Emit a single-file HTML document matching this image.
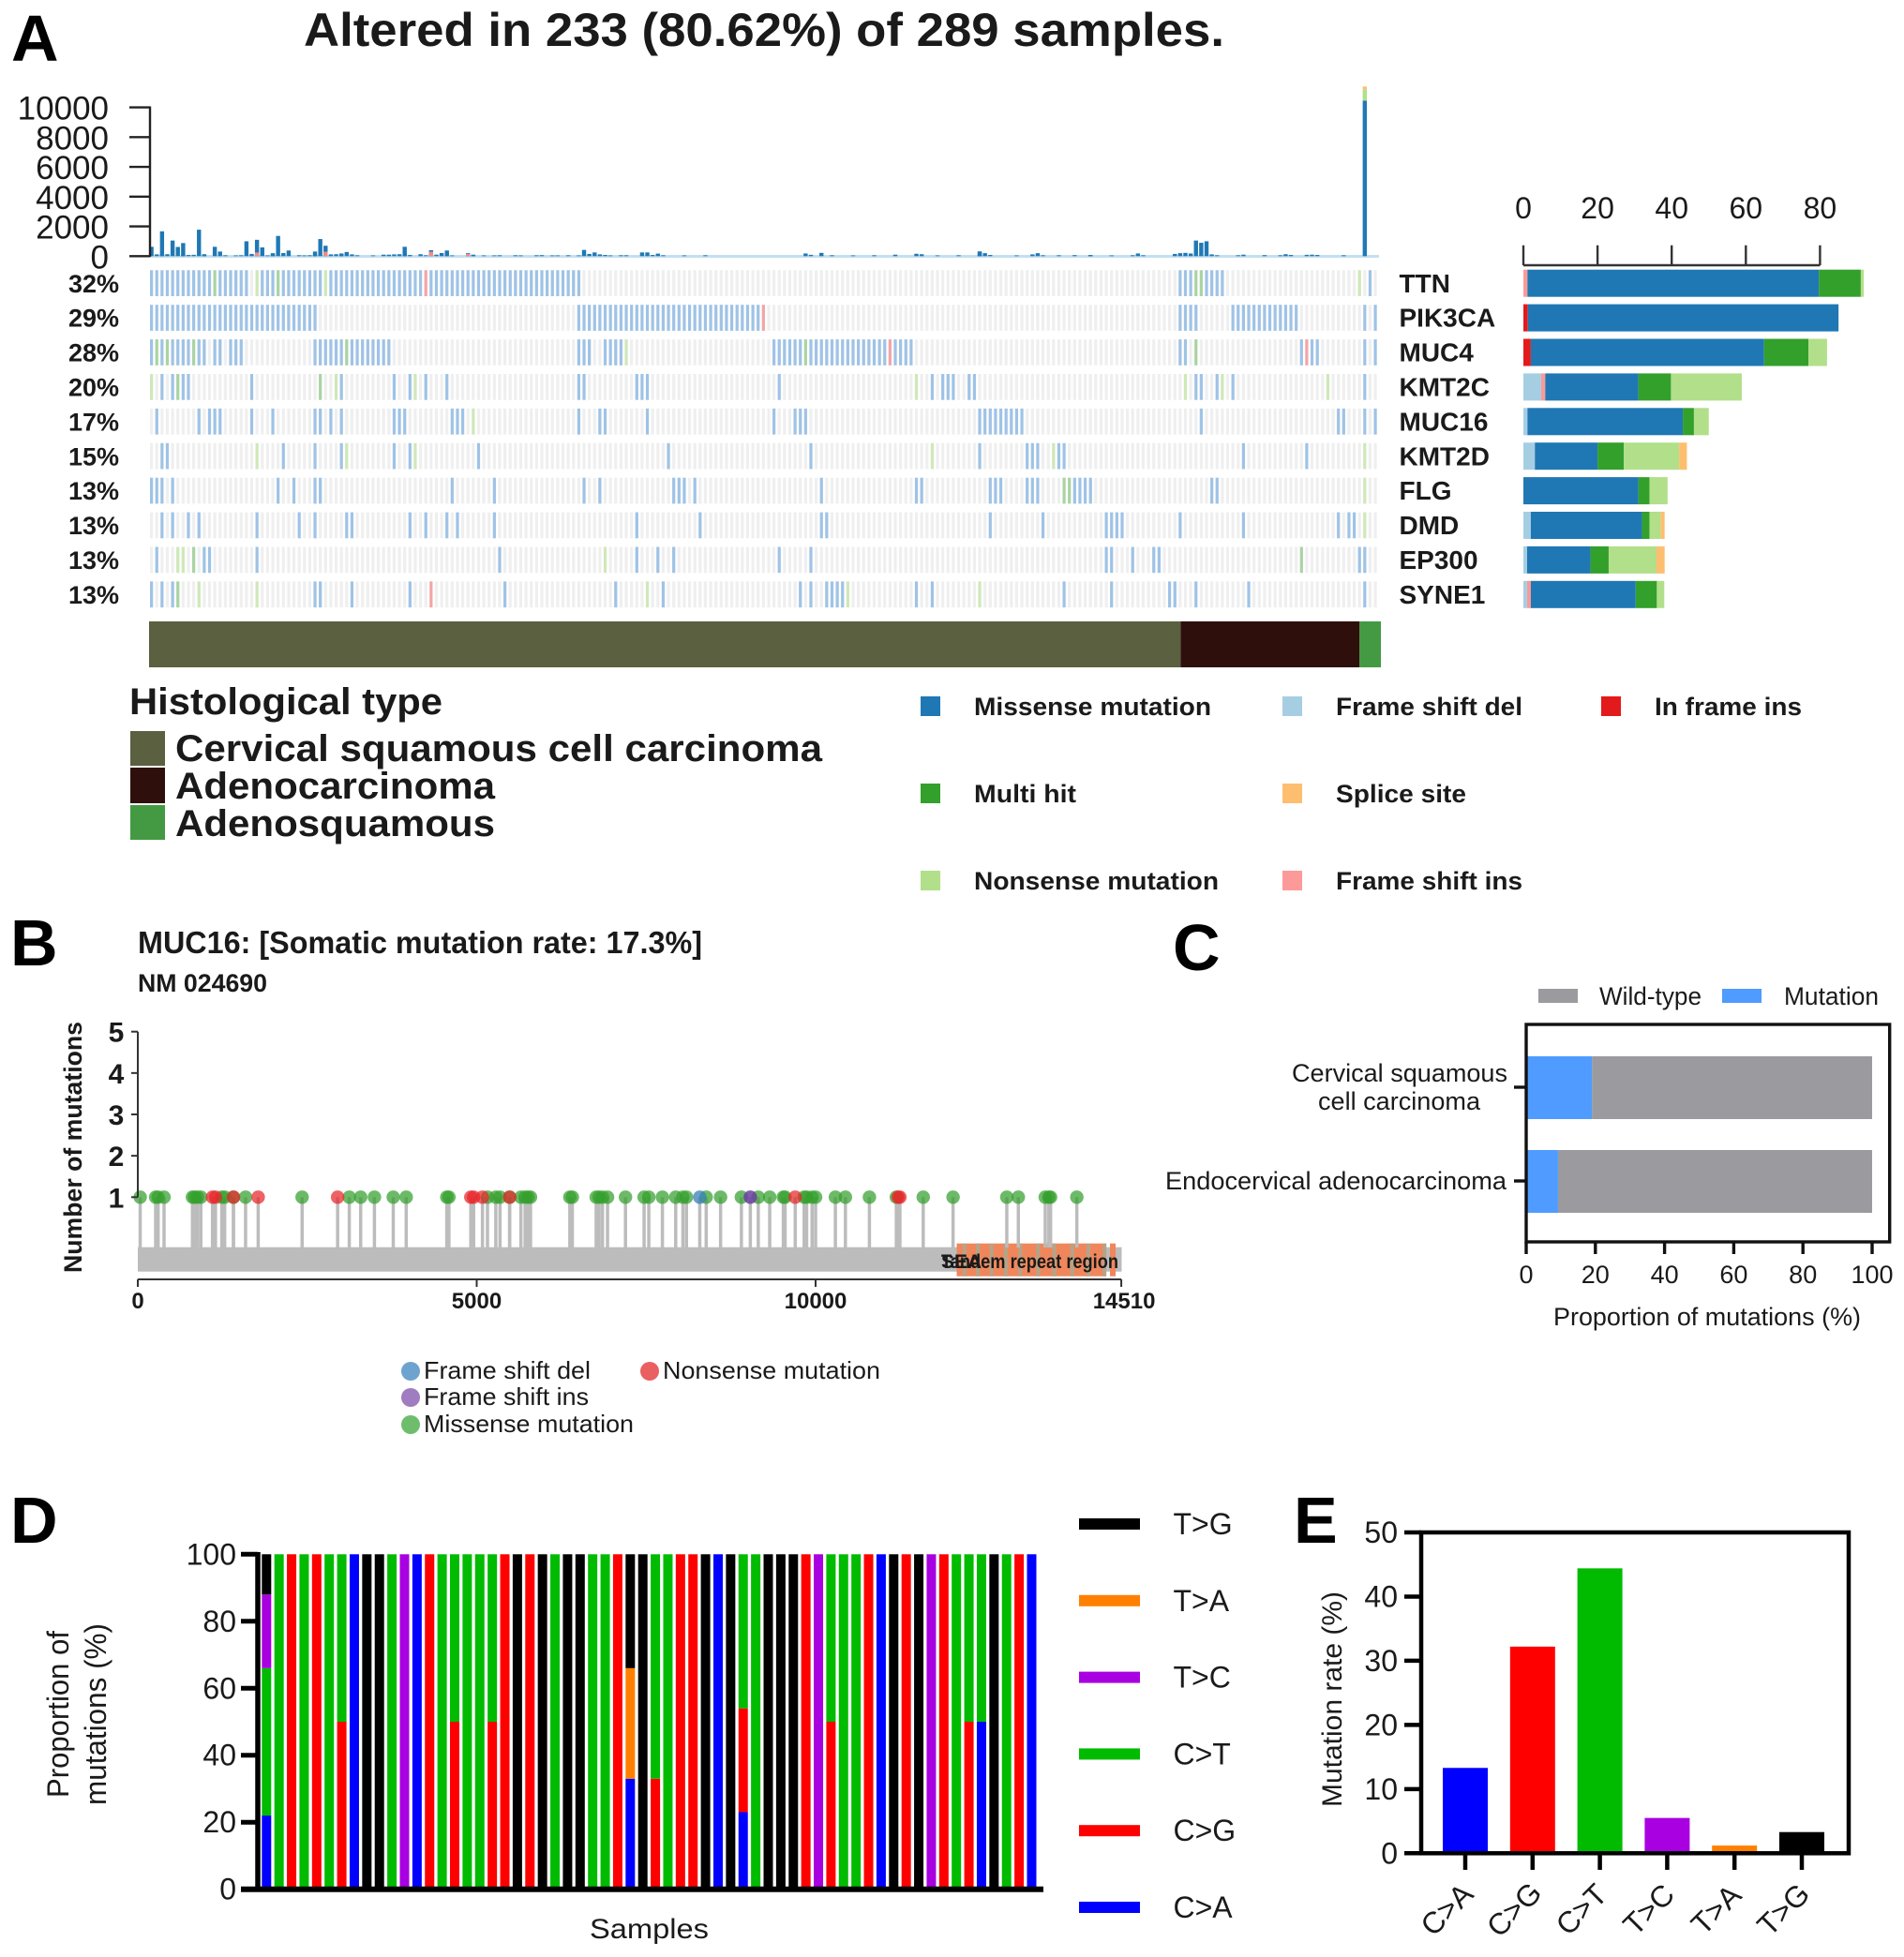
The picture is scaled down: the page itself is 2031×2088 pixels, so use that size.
<!DOCTYPE html>
<html lang="en"><head><meta charset="utf-8"><title>Mutation landscape figure</title>
<style>
html,body{margin:0;padding:0;background:#fff}
svg{display:block}
text{font-family:"Liberation Sans",Arial,sans-serif;fill:#1a1a1a}
.b{font-weight:700}
.panel{font-weight:700;font-size:70px;fill:#000}
</style></head><body>
<svg id="fig" xmlns="http://www.w3.org/2000/svg" width="2031" height="2088" viewBox="0 0 2031 2088">
<rect width="2031" height="2088" fill="#fff"/>
<!-- Panel A static -->
<text class="panel" x="12" y="65">A</text>
<text class="b" x="324" y="49" font-size="50" textLength="982" lengthAdjust="spacingAndGlyphs">Altered in 233 (80.62%) of 289 samples.</text>
<g id="tmb"></g>
<g id="heat"></g>
<g id="geneBars"></g>
<g id="annot"></g>
<g>
<text class="b" x="138" y="762" font-size="40" textLength="334" lengthAdjust="spacingAndGlyphs">Histological type</text>
<rect x="139" y="780" width="37" height="37" fill="#5a6040"/>
<rect x="139" y="819" width="37" height="38" fill="#2e0f0c"/>
<rect x="139" y="859" width="37" height="37" fill="#439a43"/>
<text class="b" x="187" y="812" font-size="40" textLength="690" lengthAdjust="spacingAndGlyphs">Cervical squamous cell carcinoma</text>
<text class="b" x="187" y="852" font-size="40" textLength="341" lengthAdjust="spacingAndGlyphs">Adenocarcinoma</text>
<text class="b" x="187" y="892" font-size="40" textLength="341" lengthAdjust="spacingAndGlyphs">Adenosquamous</text>
</g>
<g>
<rect x="982" y="743" width="21" height="21" fill="#1f78b4"/>
<text class="b" x="1039" y="763" font-size="27" textLength="253" lengthAdjust="spacingAndGlyphs">Missense mutation</text>
<rect x="982" y="836" width="21" height="21" fill="#33a02c"/>
<text class="b" x="1039" y="856" font-size="27" textLength="109" lengthAdjust="spacingAndGlyphs">Multi hit</text>
<rect x="982" y="929" width="21" height="21" fill="#b2df8a"/>
<text class="b" x="1039" y="949" font-size="27" textLength="261" lengthAdjust="spacingAndGlyphs">Nonsense mutation</text>
<rect x="1368" y="743" width="21" height="21" fill="#a6cee3"/>
<text class="b" x="1425" y="763" font-size="27" textLength="199" lengthAdjust="spacingAndGlyphs">Frame shift del</text>
<rect x="1368" y="836" width="21" height="21" fill="#fdbf6f"/>
<text class="b" x="1425" y="856" font-size="27" textLength="139" lengthAdjust="spacingAndGlyphs">Splice site</text>
<rect x="1368" y="929" width="21" height="21" fill="#fb9a99"/>
<text class="b" x="1425" y="949" font-size="27" textLength="199" lengthAdjust="spacingAndGlyphs">Frame shift ins</text>
<rect x="1708" y="743" width="21" height="21" fill="#e31a1c"/>
<text class="b" x="1765" y="763" font-size="27" textLength="157" lengthAdjust="spacingAndGlyphs">In frame ins</text>
</g>
<!-- Panel B static -->
<text class="panel" x="11" y="1030">B</text>
<text class="b" x="147" y="1017" font-size="33" textLength="602" lengthAdjust="spacingAndGlyphs">MUC16: [Somatic mutation rate: 17.3%]</text>
<text class="b" x="147" y="1058" font-size="27" textLength="138" lengthAdjust="spacingAndGlyphs">NM 024690</text>
<text class="b" transform="translate(87 1224) rotate(-90)" text-anchor="middle" font-size="27" textLength="268" lengthAdjust="spacingAndGlyphs">Number of mutations</text>
<g id="lolli"></g>
<g>
<circle cx="438" cy="1463" r="10" fill="#6fa3cf"/>
<text x="452" y="1471" font-size="26" textLength="178" lengthAdjust="spacingAndGlyphs">Frame shift del</text>
<circle cx="438" cy="1491" r="10" fill="#a07cc0"/>
<text x="452" y="1499" font-size="26" textLength="176" lengthAdjust="spacingAndGlyphs">Frame shift ins</text>
<circle cx="438" cy="1520" r="10" fill="#6dbd6d"/>
<text x="452" y="1528" font-size="26" textLength="224" lengthAdjust="spacingAndGlyphs">Missense mutation</text>
<circle cx="693" cy="1463" r="10" fill="#ea5f60"/>
<text x="707" y="1471" font-size="26" textLength="232" lengthAdjust="spacingAndGlyphs">Nonsense mutation</text>
</g>
<!-- Panel C static -->
<text class="panel" x="1251" y="1035">C</text>
<rect x="1641" y="1055" width="42" height="15" fill="#9b9b9f"/>
<text x="1706" y="1072" font-size="27" textLength="109" lengthAdjust="spacingAndGlyphs">Wild-type</text>
<rect x="1837" y="1055" width="42" height="15" fill="#4f9bff"/>
<text x="1903" y="1072" font-size="27" textLength="101" lengthAdjust="spacingAndGlyphs">Mutation</text>
<g id="propC"></g>
<text x="1657" y="1414" font-size="27" textLength="328" lengthAdjust="spacingAndGlyphs">Proportion of mutations (%)</text>
<text x="1378" y="1154" font-size="27" textLength="230" lengthAdjust="spacingAndGlyphs">Cervical squamous</text>
<text x="1406" y="1184" font-size="27" textLength="173" lengthAdjust="spacingAndGlyphs">cell carcinoma</text>
<text x="1243" y="1269" font-size="27" textLength="364" lengthAdjust="spacingAndGlyphs">Endocervical adenocarcinoma</text>
<!-- Panel D static -->
<text class="panel" x="11" y="1646">D</text>
<text transform="translate(73 1829) rotate(-90)" text-anchor="middle" font-size="32" textLength="178" lengthAdjust="spacingAndGlyphs">Proportion of</text>
<text transform="translate(113 1829) rotate(-90)" text-anchor="middle" font-size="32" textLength="194" lengthAdjust="spacingAndGlyphs">mutations (%)</text>
<text x="629" y="2068" font-size="30" textLength="127" lengthAdjust="spacingAndGlyphs">Samples</text>
<g id="stack"></g>
<g id="stackLegend"></g>
<!-- Panel E static -->
<text class="panel" x="1380" y="1646">E</text>
<text transform="translate(1431 1813) rotate(-90)" text-anchor="middle" font-size="30" textLength="230" lengthAdjust="spacingAndGlyphs">Mutation rate (%)</text>
<g id="rate"></g>
</svg>
<script>
/* ---------- Panel A data ---------- */
const pctLabels = ['32%','29%','28%','20%','17%','15%','13%','13%','13%','13%'];
const geneNames = ['TTN','PIK3CA','MUC4','KMT2C','MUC16','KMT2D','FLG','DMD','EP300','SYNE1'];
const tmbTicks = [0,2000,4000,6000,8000,10000];
const tmbSamples = [0,1,2,3,4,5,6,7,8,9,10,11,12,13,15,16,17,20,21,22,23,25,26,27,28,29,30,31,32,35,36,37,38,39,40,41,42,43,44,45,46,47,48,52,55,56,57,58,59,60,61,63,64,66,67,68,69,70,71,74,75,76,78,80,82,85,87,90,92,94,96,98,100,102,103,104,105,106,108,110,112,115,116,118,119,120,125,130,154,155,158,160,165,170,175,180,181,185,190,194,195,196,197,203,207,208,209,213,217,220,221,226,231,232,233,241,242,243,244,246,247,248,249,250,255,257,262,265,267,268,272,273,274,280,285];
const tmbMissense = [630,120,100,1670,130,1050,620,880,100,80,90,1780,130,70,630,310,60,50,60,1000,150,1100,590,50,120,200,1360,210,380,60,50,60,100,310,1150,700,120,130,160,180,280,120,60,50,100,100,120,130,200,630,80,130,60,400,100,210,280,380,50,200,100,60,50,50,60,60,50,60,70,50,50,60,50,420,150,250,120,80,50,60,60,250,250,80,170,60,50,60,180,90,220,60,50,60,100,160,130,50,60,300,320,200,80,50,120,200,60,60,70,80,70,50,60,180,60,150,200,220,180,1050,900,1000,120,60,60,100,70,60,130,80,90,100,80,60,10460];
const tmbPinkSamples = [25,41,66,74];
const tmbPinkValues = [250,300,300,150];
const tmbTopSamples = [285];
const tmbTopNonsense = [756];
const tmbTopSplice = [190];

/* Sample runs [first,last] per gene, read from the oncoplot raster (289-unit scale), and recoloured cells [sample,type] */
const ttnRuns = [[0,22],[25,100],[242,252],[284,284],[286,286]];
const ttnSpecial = [[15,'g'],[25,'n'],[30,'g'],[41,'n'],[65,'r'],[246,'g'],[247,'g'],[284,'n']];
const pik3caRuns = [[0,38],[101,143],[242,245],[254,269],[285,285],[287,287]];
const pik3caSpecial = [[144,'r']];
const muc4Runs = [[0,13],[15,16],[19,21],[39,56],[101,103],[106,110],[112,112],[146,179],[242,243],[246,246],[270,274],[285,285],[288,288]];
const muc4Special = [[1,'g'],[4,'g'],[10,'g'],[46,'g'],[112,'n'],[154,'g'],[174,'r'],[246,'g'],[272,'r']];
const kmt2cRuns = [[0,0],[3,3],[5,9],[23,24],[40,40],[43,44],[57,57],[61,62],[65,65],[69,69],[101,102],[114,116],[148,148],[180,180],[184,184],[186,189],[192,193],[243,243],[246,247],[250,251],[254,254],[277,277],[285,285]];
const kmt2cSpecial = [[0,'n'],[6,'g'],[40,'g'],[43,'n'],[62,'n'],[180,'n'],[243,'n'],[251,'n'],[277,'n']];
const muc16Runs = [[1,1],[11,11],[14,16],[23,24],[28,29],[39,40],[42,42],[45,45],[57,60],[71,73],[75,75],[101,101],[105,106],[117,117],[146,146],[151,154],[194,205],[247,247],[279,280],[285,285],[288,288]];
const muc16Special = [[75,'n']];
const kmt2dRuns = [[3,4],[25,25],[31,31],[39,39],[45,46],[57,57],[61,62],[77,77],[121,121],[155,155],[183,183],[194,194],[206,208],[212,214],[256,256],[271,271],[285,285]];
const kmt2dSpecial = [[25,'n'],[46,'n'],[62,'n'],[183,'n'],[212,'n'],[285,'n']];
const flgRuns = [[0,1],[3,3],[5,5],[30,30],[33,34],[39,40],[71,71],[80,80],[102,102],[105,105],[123,125],[128,128],[157,158],[180,181],[197,199],[206,208],[215,221],[249,250],[285,285]];
const flgSpecial = [[215,'g'],[216,'g'],[285,'n']];
const dmdRuns = [[3,3],[5,5],[9,9],[11,11],[25,25],[35,35],[39,39],[46,47],[61,61],[64,65],[70,70],[72,72],[81,81],[114,114],[129,129],[157,159],[197,197],[209,209],[224,224],[226,228],[242,242],[257,257],[279,279],[281,282],[285,285]];
const dmdSpecial = [[285,'n']];
const ep300Runs = [[1,1],[6,7],[10,10],[13,14],[25,25],[82,82],[107,107],[114,114],[119,119],[123,123],[147,147],[155,155],[224,225],[231,231],[236,237],[270,270],[284,285]];
const ep300Special = [[6,'n'],[7,'n'],[10,'g'],[107,'n'],[270,'g']];
const syne1Runs = [[0,0],[3,3],[5,6],[11,11],[25,25],[39,40],[47,47],[61,61],[66,66],[83,83],[109,109],[116,117],[120,120],[152,152],[155,155],[159,162],[164,164],[180,180],[184,184],[194,194],[215,215],[226,226],[239,241],[246,246],[258,258],[285,285]];
const syne1Special = [[6,'g'],[11,'n'],[25,'n'],[66,'r'],[117,'n'],[164,'n'],[194,'n']];
const geneRuns = [ttnRuns,pik3caRuns,muc4Runs,kmt2cRuns,muc16Runs,kmt2dRuns,flgRuns,dmdRuns,ep300Runs,syne1Runs];
const geneSpecial = [ttnSpecial,pik3caSpecial,muc4Special,kmt2cSpecial,muc16Special,kmt2dSpecial,flgSpecial,dmdSpecial,ep300Special,syne1Special];

/* Gene bar stacks (counts), per gene order above */
const barTicks = [0,20,40,60,80];
const fsDel    = [0,0,0,4.8,1.1,3.1,0,2,1,1];
const fsIns    = [1.1,0,0,1.1,0,0,0,0,0,1];
const inFrame  = [0,1.2,2,0,0,0,0,0,0,0];
const missense = [78.6,83.8,62.9,25.1,41.9,16.9,31,30,17.1,28.3];
const multiHit = [11.3,0,12,8.8,3,7.1,3,2,4.9,5.7];
const nonsense = [0.8,0,5,19.1,4,14.9,4.9,3,12.9,2];
const splice   = [0,0,0,0,0,2.1,0,1.1,2.2,0];

/* Annotation bar: sample share per histology */
const histologyCounts = [242,42,5];

/* ---------- Panel B data ---------- */
const lolliYTicks = [1,2,3,4,5];
const lolliXTicks = [0,5000,10000,14510];
const missensePos = [35,263,300,387,806,837,880,930,1239,1282,1411,1590,2424,3120,3288,3491,3769,3960,4559,4590,5159,5282,5344,5486,5652,5714,5757,5794,6374,6411,6763,6806,6856,6930,7195,7470,7539,7740,7936,8042,8095,8386,8598,8905,9154,9323,9524,9550,9831,9868,9948,10000,10292,10440,10794,11191,11588,12028,12821,12991,13388,13441,13467,13854];
const nonsensePos = [1102,1146,1411,1776,2948,4913,4955,5085,5486,9699,11218,11244];
const fsDelPos = [8291];
const fsInsPos = [9037];
const repeatStripes = [12170,12366,12567,12779,12991,13255,13494,13759,13997,14235];

/* ---------- Panel C data ---------- */
const propTicks = [0,20,40,60,80,100];
const propMutation = [19,9.2];

/* ---------- Panel D data (62 samples) ---------- */
const stackTicks = [0,20,40,60,80,100];
const sCA = [22,0,0,0,0,0,0,100,0,0,0,0,100,0,0,0,0,0,0,0,0,0,0,0,0,0,0,0,0,33,0,0,0,0,0,0,100,0,23,0,0,0,0,0,0,0,0,0,0,100,0,0,0,0,0,0,0,50,0,0,0,100];
const sCG = [0,0,100,0,100,0,50,0,0,0,0,0,0,100,0,50,0,0,50,100,0,100,0,0,0,0,0,0,100,0,0,33,0,100,100,0,0,0,31,0,0,0,0,100,0,50,0,0,100,0,0,100,0,0,100,0,50,0,0,0,100,0];
const sCT = [44,100,0,100,0,100,50,0,0,0,100,0,0,0,100,50,100,100,50,0,0,0,0,100,0,0,100,100,0,0,0,67,100,0,0,0,0,0,46,100,0,0,0,0,0,50,100,100,0,0,0,0,0,0,0,100,50,50,0,100,0,0];
const sTC = [22,0,0,0,0,0,0,0,0,0,0,100,0,0,0,0,0,0,0,0,0,0,0,0,0,0,0,0,0,0,0,0,0,0,0,0,0,0,0,0,0,0,0,0,100,0,0,0,0,0,0,0,0,100,0,0,0,0,0,0,0,0];
const sTA = [0,0,0,0,0,0,0,0,0,0,0,0,0,0,0,0,0,0,0,0,0,0,0,0,0,0,0,0,0,33,0,0,0,0,0,0,0,0,0,0,0,0,0,0,0,0,0,0,0,0,0,0,0,0,0,0,0,0,0,0,0,0];
const sTG = [12,0,0,0,0,0,0,0,100,100,0,0,0,0,0,0,0,0,0,0,100,0,100,0,100,100,0,0,0,34,100,0,0,0,0,100,0,100,0,0,100,100,100,0,0,0,0,0,0,0,100,0,100,0,0,0,0,0,100,0,0,0];
const stackLegendLabels = ['T>G','T>A','T>C','C>T','C>G','C>A'];

/* ---------- Panel E data ---------- */
const rateCats = ['C>A','C>G','C>T','T>C','T>A','T>G'];
const rateValues = [13.3,32.2,44.4,5.5,1.2,3.3];
const rateTicks = [0,10,20,30,40,50];

/* ---------- helpers ---------- */
const NS = 'http://www.w3.org/2000/svg';
function rect(p,x,y,w,h,fill){
  const e = document.createElementNS(NS,'rect');
  e.setAttribute('x',x);e.setAttribute('y',y);e.setAttribute('width',w);e.setAttribute('height',h);e.setAttribute('fill',fill);
  p.appendChild(e);return e;
}
function line(p,x1,y1,x2,y2,stroke,sw){
  const e = document.createElementNS(NS,'line');
  e.setAttribute('x1',x1);e.setAttribute('y1',y1);e.setAttribute('x2',x2);e.setAttribute('y2',y2);
  e.setAttribute('stroke',stroke);e.setAttribute('stroke-width',sw);
  p.appendChild(e);return e;
}
function text(p,x,y,s,fs,anchor,bold){
  const e = document.createElementNS(NS,'text');
  e.setAttribute('x',x);e.setAttribute('y',y);e.setAttribute('font-size',fs);
  e.setAttribute('text-anchor',anchor);
  if(bold) e.setAttribute('class','b');
  e.textContent = s;
  p.appendChild(e);return e;
}
function circle(p,cx,cy,r,fill,op){
  const e = document.createElementNS(NS,'circle');
  e.setAttribute('cx',cx);e.setAttribute('cy',cy);e.setAttribute('r',r);e.setAttribute('fill',fill);e.setAttribute('fill-opacity',op);
  p.appendChild(e);return e;
}
const G = id => document.getElementById(id);
/* 233 altered samples are drawn in columns; raster units map onto them */
const COLS = 233, COLW = 5.627;
const col = s => Math.round(s*4.54/COLW);
const colX = s => 160 + col(s)*COLW;

/* ---------- TMB chart ---------- */
(function(){
  const g = G('tmb');
  const sy = v => 273.3 - v*0.01587;
  const bw = 4.4;
  const base = rect(g,160,272,1311,3,'#c4dff0');
  
  
  tmbSamples.forEach((s,i)=>{
    const r = rect(g,colX(s)-0.6,sy(tmbMissense[i]),bw,273.3-sy(tmbMissense[i]),'#1f78b4');
    
    
  });
  tmbPinkSamples.forEach((s,i)=>{
    const r = rect(g,colX(s)-0.6,sy(tmbPinkValues[i]),bw,273.3-sy(tmbPinkValues[i]),'#f08a88');
    
    
  });
  tmbTopSamples.forEach((s,i)=>{
    const m = tmbMissense[tmbSamples.indexOf(s)];
    const a = rect(g,colX(s)-0.6,sy(m+tmbTopNonsense[i]),bw,tmbTopNonsense[i]*0.01587,'#b2df8a');
    
    
    const b = rect(g,colX(s)-0.6,sy(m+tmbTopNonsense[i]+tmbTopSplice[i]),bw,tmbTopSplice[i]*0.01587,'#fdbf6f');
    
    
  });
  const ax = line(g,160,113.5,160,274,'#222',2.4);
  
  
  tmbTicks.forEach(v=>{
    const t = line(g,138,sy(v),160,sy(v),'#222',2.4);
    
    
    const l = text(g,116,sy(v)+13,String(v),35,'end',false);
    
    
  });
})();

/* ---------- Oncoplot heatmap ---------- */
(function(){
  const g = G('heat');
  const w = 3.2;
  const colours = {m:'#9fc3e6',g:'#a9d4a2',n:'#cfe8b8',r:'#f3a5a5',o:'#fbdcbc'};
  geneNames.forEach((gene,row)=>{
    const y = 288.3 + row*36.9;
    const bg = document.createElementNS(NS,'path');
    let d = '';
    for(let i=0;i<COLS;i++){ d += 'M'+(160+i*COLW).toFixed(2)+' '+y.toFixed(1)+'h'+w+'v27.7h-'+w+'z'; }
    bg.setAttribute('d',d);
    bg.setAttribute('fill','#efefef');
    
    
    g.appendChild(bg);
    const special = new Map();
    geneSpecial[row].forEach(sp=>special.set(col(sp[0]),sp[1]));
    const done = new Set();
    geneRuns[row].forEach(run=>{
      for(let c=col(run[0]);c<=col(run[1]);c++){
        if(done.has(c)) continue;
        done.add(c);
        const cell = rect(g,(160+c*COLW).toFixed(2),y.toFixed(1),w,27.7,colours[special.get(c)||'m']);
        
        
      }
    });
    geneSpecial[row].forEach(sp=>{
      const c0 = col(sp[0]);
      if(!done.has(c0)){
        done.add(c0);
        const cell = rect(g,(160+c0*COLW).toFixed(2),y.toFixed(1),w,27.7,colours[sp[1]]);
        
        
      }
    });
    const pl = text(g,127,y+23.5,pctLabels[row],27,'end',true);
    
    
    const gl = text(g,1492.5,y+23.5,gene,28,'start',true);
    
    
  });
})();

/* ---------- Gene bars ---------- */
(function(){
  const g = G('geneBars');
  const sx = v => 1625 + v*3.955;
  const series = [[fsDel,'#a6cee3'],[fsIns,'#fb9a99'],[inFrame,'#e31a1c'],[missense,'#1f78b4'],[multiHit,'#33a02c'],[nonsense,'#b2df8a'],[splice,'#fdbf6f']];
  geneNames.forEach((gene,row)=>{
    let acc = 0;
    const y = 287.7 + row*36.9;
    series.forEach(s=>{
      const v = s[0][row];
      if(v>0){
        const r = rect(g,sx(acc),y,v*3.955,29,s[1]);
        
        
      }
      acc += v;
    });
  });
  const ax = line(g,sx(0),283,sx(80),283,'#333',2.4);
  
  
  barTicks.forEach(v=>{
    const t = line(g,sx(v),261.7,sx(v),283,'#333',2.4);
    
    
    const l = text(g,sx(v),233,String(v),32,'middle',false);
    
    
  });
})();

/* ---------- Annotation bar ---------- */
(function(){
  const g = G('annot');
  const cols = ['#5a6040','#2e0f0c','#439a43'];
  const sx = c => 159 + c*(1314/289);
  let acc = 0;
  histologyCounts.forEach((c,i)=>{
    const r = rect(g,sx(acc),663,c*(1314/289),49,cols[i]);
    
    
    acc += c;
  });
})();

/* ---------- Lollipop ---------- */
(function(){
  const g = G('lolli');
  const sx = a => 147 + a*0.0723;
  const sy = v => 1277.3 - (v-1)*44.15;
  const bar = rect(g,147,1330.7,1049.5,26,'#bcbcbc');
  
  
  const dom = rect(g,1020.5,1326.7,159.5,35,'#f0875c');
  
  
  const dom2 = rect(g,1184,1326.7,6,35,'#f0875c');
  
  
  repeatStripes.forEach(a=>{
    const r = rect(g,sx(a),1326.7,4,35,'#b5a488');
    
    
  });
  const t1 = text(g,1004,1353,'SEA',21,'start',true);
  
  
  const t2 = text(g,1004,1353,'Tandem repeat region',21,'start',true);
  
  
  t2.setAttribute('textLength','189');
  t2.setAttribute('lengthAdjust','spacingAndGlyphs');
  const all = [[missensePos,'#33a02c',0.72],[nonsensePos,'#e8262a',0.72],[fsDelPos,'#377eb8',0.75],[fsInsPos,'#6a3fa0',0.85]];
  all.forEach(s=>s[0].forEach(a=>{
    const st = line(g,sx(a),sy(1),sx(a),1331,'#bcbcbc',3.5);
    
    
  }));
  all.forEach(s=>s[0].forEach(a=>{
    const c = circle(g,sx(a),sy(1),7.2,s[1],s[2]);
    
    
  }));
  const ay = line(g,147,sy(5),147,1277.3,'#333',2);
  
  
  lolliYTicks.forEach(v=>{
    const t = line(g,140,sy(v),147,sy(v),'#333',2);
    
    
    const l = text(g,124,sy(v)+11,String(v),30,'middle',true);
    
    
  });
  const ax = line(g,147,1365,sx(14510),1365,'#333',2);
  
  
  lolliXTicks.forEach(v=>{
    const t = line(g,sx(v),1365,sx(v),1373,'#333',2);
    
    
    const l = text(g,sx(v)+(v===14510?3:0),1396,String(v),24,'middle',true);
    
    
  });
})();

/* ---------- Proportion chart ---------- */
(function(){
  const g = G('propC');
  const sx = v => 1628 + v*3.69;
  const tops = [1127,1227];
  const tickYs = [1160,1260];
  propMutation.forEach((m,i)=>{
    const w = rect(g,sx(m),tops[i],(100-m)*3.69,67,'#9b9b9f');
    
    
    const b = rect(g,sx(0),tops[i],m*3.69,67,'#4f9bff');
    
    
    const t = line(g,1615,tickYs[i],1628,tickYs[i],'#111',3.4);
    
    
  });
  const box = rect(g,1628,1093,387.7,232,'none');
  box.setAttribute('stroke','#111');
  box.setAttribute('stroke-width','3.4');
  
  
  propTicks.forEach(v=>{
    const t = line(g,sx(v),1325,sx(v),1338,'#111',3.4);
    
    
    const l = text(g,sx(v),1369,String(v),27,'middle',false);
    
    
  });
})();

/* ---------- Stacked bars ---------- */
(function(){
  const g = G('stack');
  const series = [[sCA,'#0000ff'],[sCG,'#ff0000'],[sCT,'#00bb00'],[sTC,'#a800e0'],[sTA,'#ff8000'],[sTG,'#000000']];
  const sx = i => 284.3 + i*13.38;
  const sy = v => 2015.7 - v*3.574;
  sCA.forEach((_,i)=>{
    let acc = 0;
    series.forEach(s=>{
      const v = s[0][i];
      if(v>0){
        const r = rect(g,sx(i)-5,sy(acc+v),10,v*3.574,s[1]);
        
        
      }
      acc += v;
    });
  });
  const ay = line(g,275,1656,275,2018,'#000',5.5);
  
  
  const ax = line(g,257,2015.7,1113,2015.7,'#000',6);
  
  
  stackTicks.forEach(v=>{
    const t = line(g,257,sy(v),275,sy(v),'#000',5);
    
    
    const l = text(g,252,sy(v)+11,String(v),32,'end',false);
    
    
  });
  const lg = G('stackLegend');
  const legendColours = ['#000000','#ff8000','#a800e0','#00bb00','#ff0000','#0000ff'];
  stackLegendLabels.forEach((s,i)=>{
    const y = 1626 + i*81.8;
    const sw = rect(lg,1151,y-6,65,12,legendColours[i]);
    
    
    const l = text(lg,1251.5,y+11,s,32,'start',false);
    
    
  });
})();

/* ---------- Rate chart ---------- */
(function(){
  const g = G('rate');
  const cols = ['#0000ff','#ff0000','#00bb00','#a800e0','#ff8000','#000000'];
  const sx = i => 1563 + i*71.8;
  const sy = v => 1977.3 - v*6.846;
  rateValues.forEach((v,i)=>{
    const r = rect(g,sx(i)-24,sy(v),48,v*6.846,cols[i]);
    
    
    const t = line(g,sx(i),1977,sx(i),1995,'#000',4.5);
    
    
    const l = text(g,sx(i)-19,2048,rateCats[i],32,'middle',false);
    l.setAttribute('transform','rotate(-45 '+(sx(i)-19)+' 2038)');
    
    
  });
  const box = rect(g,1516,1635,456,342.3,'none');
  box.setAttribute('stroke','#000');
  box.setAttribute('stroke-width','4.5');
  
  
  rateTicks.forEach(v=>{
    const t = line(g,1498,sy(v),1516,sy(v),'#000',4.5);
    
    
    const l = text(g,1491,sy(v)+11,String(v),32,'end',false);
    
    
  });
})();
</script>
</body></html>
